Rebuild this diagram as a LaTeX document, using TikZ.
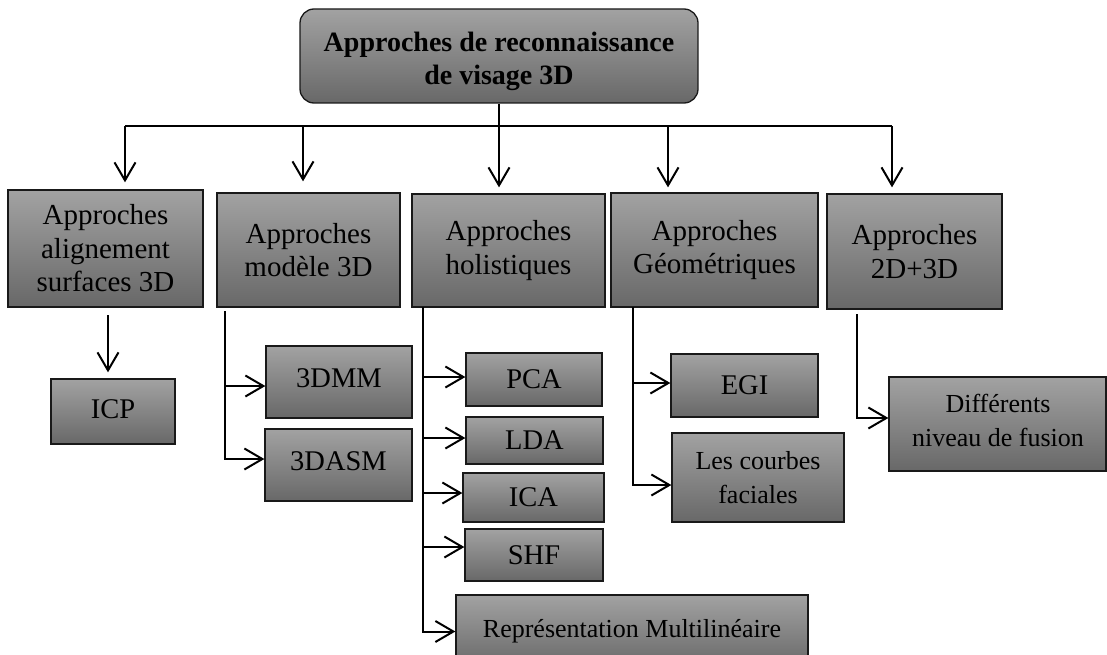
\documentclass[tikz,border=0pt]{standalone}
\usepackage{fontspec}
\setmainfont{Liberation Serif}
\usetikzlibrary{arrows.meta,shadings}
\definecolor{boxtop}{RGB}{162,162,162}
\definecolor{boxbot}{RGB}{104,104,104}
\definecolor{edge}{RGB}{25,25,25}
\begin{document}
\begin{tikzpicture}[x=1pt,y=-1pt,
  box/.style={draw=edge, line width=1.3pt, top color=boxtop, bottom color=boxbot,
    inner sep=0pt, align=center, text=black},
  caption/.style={inner sep=0pt, align=center, text=black},
  big/.style={font=\fontsize{29}{33.5}\selectfont},
  leaf/.style={font=\fontsize{28.5}{33}\selectfont},
  small/.style={font=\fontsize{26}{34}\selectfont},
  link/.style={line width=2pt, black},
  arr/.style={link, -{Straight Barb[length=18pt,width=21pt]}},
]
\useasboundingbox (0,0) rectangle (1107,655);

% root
\node[box, rounded corners=14pt, minimum width=398pt, minimum height=94pt] (top) at (499,56) {};
\node[caption, font=\bfseries\fontsize{28}{33}\selectfont] (toptext) at (499,61)
      {Approches de reconnaissance\\de visage 3D};

% families of approaches
\node[box, big, minimum width=195pt, minimum height=117pt] (b1) at (105.5,248.5)
      {Approches\\alignement\\surfaces 3D};
\node[box, big, minimum width=183pt, minimum height=114pt] (b2) at (308.5,250)
      {Approches\\modèle 3D};
\node[box, big, minimum width=193pt, minimum height=113pt] (b3) at (508.5,250.5)
      {Approches\\holistiques};
\node[box, big, minimum width=207pt, minimum height=114pt] (b4) at (714.5,250)
      {Approches\\Géométriques};
\node[box, big, minimum width=175pt, minimum height=115pt] (b5) at (914.5,251.5)
      {Approches\\2D+3D};

% methods
\node[box, leaf, minimum width=124pt, minimum height=65pt] (icp) at (113,411.5)
      {\raisebox{4pt}{ICP}};
\node[box, leaf, minimum width=146pt, minimum height=72pt] (dmm) at (339,382)
      {\raisebox{8pt}{3DMM}};
\node[box, leaf, minimum width=147pt, minimum height=72pt] (dasm) at (338.5,465)
      {\raisebox{8pt}{3DASM}};
\node[box, leaf, minimum width=136pt, minimum height=53pt] (pca) at (534,379.5) {PCA};
\node[box, leaf, minimum width=137pt, minimum height=47pt] (lda) at (534.5,440.5) {LDA};
\node[box, leaf, minimum width=141pt, minimum height=49pt] (ica) at (533.5,497.5) {ICA};
\node[box, leaf, minimum width=138pt, minimum height=52pt] (shf) at (534,555) {SHF};
\node[box, small, minimum width=352pt, minimum height=73pt] (rep) at (632,631.5)
      {\raisebox{4.5pt}{Représentation Multilinéaire}};
\node[box, leaf, minimum width=147pt, minimum height=63pt] (egi) at (744.5,385.5) {EGI};
\node[box, small, minimum width=172pt, minimum height=89pt] (crb) at (758,477.5)
      {Les courbes\\faciales};
\node[box, minimum width=217pt, minimum height=94pt] (fus) at (997.5,424) {};
\node[caption, small] (fustext) at (998,420) {Différents\\niveau de fusion};

% distribution bus under the root
\coordinate (a1) at (125,126);
\coordinate (a2) at (303,126);
\coordinate (a4) at (668,126);
\coordinate (a5) at (892,126);
\draw[link] (a1) -- (a5);
\draw[arr, shorten >=6pt] (top.south) -- (top.south |- b3.north);
\draw[arr, shorten >=7pt] (a1) -- (a1 |- b1.north);
\draw[arr, shorten >=11pt] (a2) -- (a2 |- b2.north);
\draw[arr, shorten >=5pt] (a4) -- (a4 |- b4.north);
\draw[arr, shorten >=6pt] (a5) -- (a5 |- b5.north);

% surface alignment
\coordinate (i0) at (108,315);
\draw[arr, shorten >=6pt] (i0) -- (i0 |- icp.north);

% 3D model
\coordinate (m0) at (225,311);
\draw[arr] (m0) |- ([yshift=-4pt]dmm.west);
\draw[arr] (m0) |- ([yshift=6pt]dasm.west);

% holistic
\coordinate (h0) at (423,307);
\draw[arr] (h0) |- ([yshift=2.5pt]pca.west);
\draw[arr] (h0) |- ([yshift=2.5pt]lda.west);
\draw[arr] (h0) |- ([yshift=4.5pt]ica.west);
\draw[arr] (h0) |- ([yshift=8pt]shf.west);
\draw[arr] (h0) |- (rep.west);

% geometric
\coordinate (g0) at (633,307);
\draw[arr] (g0) |- ([yshift=2.5pt]egi.west);
\draw[arr] (g0) |- ([yshift=-7.5pt]crb.west);

% 2D+3D
\coordinate (f0) at (857,314);
\draw[arr] (f0) |- ([yshift=6pt]fus.west);
\end{tikzpicture}
\end{document}
